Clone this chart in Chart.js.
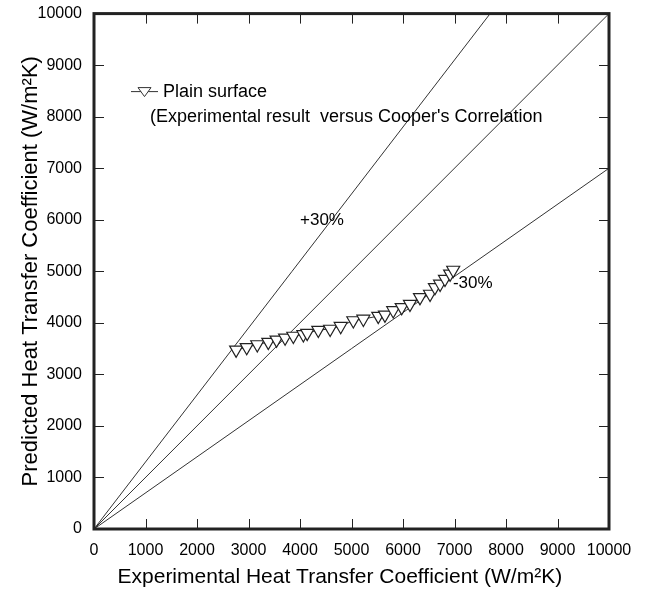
<!DOCTYPE html>
<html>
<head>
<meta charset="utf-8">
<script src="https://cdn.jsdelivr.net/npm/chart.js@4.4.0/dist/chart.umd.min.js"></script>
<style>
  html, body { margin: 0; padding: 0; background: #fff; }
</style>
</head>
<body>
<canvas id="htc-chart" width="645" height="592"></canvas>
<script>
// experimental vs predicted (Cooper) heat transfer coefficient, W/m2K
const expHTC = [2760, 2965, 3170, 3385, 3545, 3710, 3870, 4065, 4140, 4355, 4585, 4790, 5035,
  5230, 5520, 5650, 5810, 5975, 6135, 6330, 6525, 6620, 6720, 6815, 6915, 6975];
const predHTC = [3475, 3525, 3580, 3625, 3670, 3710, 3745, 3775, 3800, 3860, 3880, 3935, 4045,
  4075, 4130, 4155, 4240, 4300, 4365, 4495, 4560, 4690, 4755, 4850, 4950, 5025];
const axisTicks = [0, 1000, 2000, 3000, 4000, 5000, 6000, 7000, 8000, 9000, 10000];
const refRatios = [1.3, 1.0, 0.7];   // +30%, 1:1, -30%
const refNames = ['+30%', '', '-30%'];

const FONT = '"Liberation Sans", Arial, sans-serif';
const INK = '#222';
const NB = '\u00A0';

// reference lines from origin to where they leave the 10000 x 10000 box
const refSets = refRatios.map((r, i) => ({
  label: refNames[i] || 'y = x',
  data: [{ x: 0, y: 0 }, r >= 1 ? { x: 10000 / r, y: 10000 } : { x: 10000, y: 10000 * r }],
  borderColor: '#333',
  borderWidth: 1,
  pointRadius: 0,
  showLine: true
}));

const frame = {
  id: 'frame',
  afterDatasetsDraw(chart) {
    const { ctx, chartArea: a, scales: { x, y } } = chart;
    ctx.save();
    ctx.strokeStyle = INK;
    ctx.lineWidth = 1;
    ctx.beginPath();
    axisTicks.slice(1, -1).forEach(v => {
      const px = Math.round(x.getPixelForValue(v)) + 0.5;
      ctx.moveTo(px, a.bottom); ctx.lineTo(px, a.bottom - 10);
      ctx.moveTo(px, a.top); ctx.lineTo(px, a.top + 10);
      const py = Math.round(y.getPixelForValue(v)) + 0.5;
      ctx.moveTo(a.left, py); ctx.lineTo(a.left + 10, py);
      ctx.moveTo(a.right, py); ctx.lineTo(a.right - 10, py);
    });
    ctx.stroke();
    ctx.lineWidth = 3;
    ctx.strokeRect(a.left, a.top, a.right - a.left, a.bottom - a.top);

    // line tags
    ctx.fillStyle = '#000';
    ctx.font = '17px ' + FONT;
    ctx.textBaseline = 'middle';
    ctx.fillText('+30%', x.getPixelForValue(4000), y.getPixelForValue(5980));
    ctx.fillText('-30%', x.getPixelForValue(6970), y.getPixelForValue(4770));

    // legend box
    const lx = a.left + 37, ly = a.top + 78;
    ctx.strokeStyle = '#333';
    ctx.lineWidth = 1;
    ctx.beginPath();
    ctx.moveTo(lx, ly); ctx.lineTo(lx + 27, ly);
    ctx.stroke();
    ctx.beginPath();
    ctx.moveTo(lx + 7, ly - 4); ctx.lineTo(lx + 20, ly - 4); ctx.lineTo(lx + 13.5, ly + 5); ctx.closePath();
    ctx.fillStyle = '#fff';
    ctx.fill(); ctx.stroke();
    ctx.fillStyle = '#000';
    ctx.font = '18px ' + FONT;
    ctx.fillText('Plain surface', lx + 32, ly);
    ctx.fillText("(Experimental result  versus Cooper's Correlation", lx + 19, ly + 25);
    ctx.restore();
  }
};

const plainTick = v => String(v);

const ctx = document.getElementById('htc-chart').getContext('2d');
new Chart(ctx, {
  type: 'scatter',
  data: {
    datasets: [
      {
        label: 'Plain surface',
        data: expHTC.map((v, i) => ({ x: v, y: predHTC[i] })),
        showLine: true,
        borderColor: '#333',
        borderWidth: 1,
        pointStyle: 'triangle',
        rotation: 180,
        pointRadius: 7.5,
        pointBackgroundColor: '#fff',
        pointBorderColor: '#222',
        pointBorderWidth: 1.2
      },
      ...refSets
    ]
  },
  options: {
    responsive: false,
    animation: false,
    layout: { padding: { top: 13, right: 36, left: 0, bottom: 0 } },
    plugins: { legend: { display: false }, tooltip: { enabled: false } },
    scales: {
      x: {
        type: 'linear', min: 0, max: 10000,
        grid: { display: false },
        border: { display: false },
        afterBuildTicks: s => { s.ticks = axisTicks.map(v => ({ value: v })); },
        afterFit: s => { s.height = 63; },
        ticks: { autoSkip: false, maxRotation: 0, padding: 4, color: '#000', callback: plainTick,
          font: { family: FONT, size: 16 } },
        title: { display: true, text: 'Experimental Heat Transfer Coefficient (W/m\u00B2K)' + NB.repeat(4), color: '#000',
          padding: { top: 0, bottom: 2 }, font: { family: FONT, size: 21 } }
      },
      y: {
        type: 'linear', min: 0, max: 10000,
        grid: { display: false },
        border: { display: false },
        afterBuildTicks: s => { s.ticks = axisTicks.map(v => ({ value: v })); },
        afterFit: s => { s.width = 94; },
        ticks: { autoSkip: false, padding: 4, color: '#000', callback: plainTick,
          font: { family: FONT, size: 16 } },
        title: { display: true, text: 'Predicted Heat Transfer Coefficient (W/m\u00B2K)', color: '#000',
          padding: { top: 18, bottom: 0 }, font: { family: FONT, size: 22 } }
      }
    }
  },
  plugins: [frame]
});
</script>
</body>
</html>
